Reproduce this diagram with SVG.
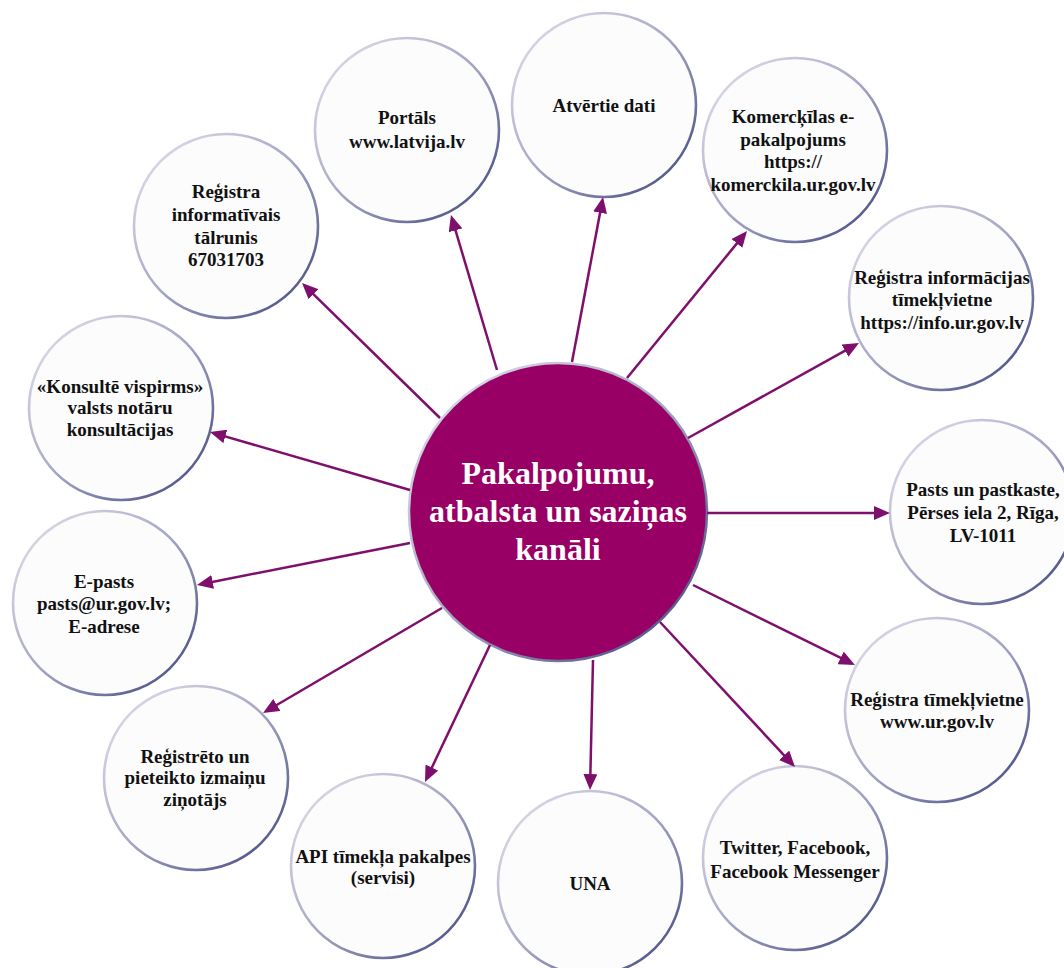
<svg xmlns="http://www.w3.org/2000/svg" width="1064" height="968" viewBox="0 0 1064 968">
<defs>
<linearGradient id="ring" x1="0.15" y1="0.15" x2="0.85" y2="0.85">
<stop offset="0" stop-color="#d2d2e2"/>
<stop offset="0.5" stop-color="#a4a6c4"/>
<stop offset="1" stop-color="#5a5e90"/>
</linearGradient>
<marker id="ah" viewBox="0 0 16 14" refX="12" refY="7" markerWidth="16" markerHeight="14" markerUnits="userSpaceOnUse" orient="auto">
<path d="M0,0 L16,7 L0,14 z" fill="#7e0f6c"/>
</marker>
<style>
.n{fill:#fcfcfd;stroke:url(#ring);stroke-width:2.6}
.t{font-family:"Liberation Serif","Times New Roman",serif;font-weight:bold;font-size:19px;fill:#111;text-anchor:middle}
.c{font-family:"Liberation Serif","Times New Roman",serif;font-weight:bold;font-size:32px;fill:#fff;text-anchor:middle}
.e{stroke:#7e0f6c;stroke-width:2.5;fill:none;marker-end:url(#ah)}
</style>
</defs>
<rect width="1064" height="968" fill="#fff"/>
<g id="center">
<circle cx="558" cy="512" r="149" fill="#990066" stroke="url(#ring)" stroke-width="2.5"/>
<text class="c" x="558" y="484">Pakalpojumu,</text>
<text class="c" x="558" y="522">atbalsta un saziņas</text>
<text class="c" x="558" y="560">kanāli</text>
</g>
<g id="n-portals">
<circle class="n" cx="407" cy="130" r="92"/>
<text class="t" x="407" y="124">Portāls</text>
<text class="t" x="407" y="148">www.latvija.lv</text>
</g>
<g id="n-atvertie">
<circle class="n" cx="604" cy="105" r="92"/>
<text class="t" x="604" y="112">Atvērtie dati</text>
</g>
<g id="n-komerckilas">
<circle class="n" cx="795" cy="150" r="92"/>
<text class="t" x="793" y="123">Komercķīlas e-</text>
<text class="t" x="793" y="146">pakalpojums</text>
<text class="t" x="793" y="168">https://</text>
<text class="t" x="793" y="191">komerckila.ur.gov.lv</text>
</g>
<g id="n-info">
<circle class="n" cx="941" cy="298" r="92"/>
<text class="t" x="942" y="284">Reģistra informācijas</text>
<text class="t" x="942" y="306">tīmekļvietne</text>
<text class="t" x="942" y="329">https://info.ur.gov.lv</text>
</g>
<g id="n-pasts">
<circle class="n" cx="982" cy="512" r="92"/>
<text class="t" x="983" y="496">Pasts un pastkaste,</text>
<text class="t" x="983" y="519">Pērses iela 2, Rīga,</text>
<text class="t" x="983" y="542">LV-1011</text>
</g>
<g id="n-timeklvietne">
<circle class="n" cx="937" cy="710" r="92"/>
<text class="t" x="937" y="706">Reģistra tīmekļvietne</text>
<text class="t" x="937" y="728">www.ur.gov.lv</text>
</g>
<g id="n-twitter">
<circle class="n" cx="795" cy="858" r="92"/>
<text class="t" x="795" y="854">Twitter, Facebook,</text>
<text class="t" x="795" y="878">Facebook Messenger</text>
</g>
<g id="n-una">
<circle class="n" cx="590" cy="883" r="92"/>
<text class="t" x="590" y="890">UNA</text>
</g>
<g id="n-api">
<circle class="n" cx="383" cy="866" r="92"/>
<text class="t" x="383" y="863">API tīmekļa pakalpes</text>
<text class="t" x="383" y="884">(servisi)</text>
</g>
<g id="n-zinotajs">
<circle class="n" cx="196" cy="778" r="92"/>
<text class="t" x="195" y="763">Reģistrēto un</text>
<text class="t" x="195" y="784">pieteikto izmaiņu</text>
<text class="t" x="195" y="806">ziņotājs</text>
</g>
<g id="n-epasts">
<circle class="n" cx="105" cy="603" r="92"/>
<text class="t" x="104" y="588">E-pasts</text>
<text class="t" x="104" y="610">pasts@ur.gov.lv;</text>
<text class="t" x="104" y="633">E-adrese</text>
</g>
<g id="n-konsulte">
<circle class="n" cx="121" cy="408" r="92"/>
<text class="t" x="120" y="393">«Konsultē vispirms»</text>
<text class="t" x="120" y="414">valsts notāru</text>
<text class="t" x="120" y="436">konsultācijas</text>
</g>
<g id="n-talrunis">
<circle class="n" cx="226" cy="226" r="92"/>
<text class="t" x="226" y="198">Reģistra</text>
<text class="t" x="226" y="221">informatīvais</text>
<text class="t" x="226" y="244">tālrunis</text>
<text class="t" x="226" y="266">67031703</text>
</g>
<g id="connectors">
<line class="e" x1="497" y1="370" x2="452.1" y2="218.8"/>
<line class="e" x1="572" y1="362" x2="602.3" y2="200.9"/>
<line class="e" x1="627" y1="378" x2="744.5" y2="234.1"/>
<line class="e" x1="688" y1="438" x2="855.5" y2="344.9"/>
<line class="e" x1="707" y1="513" x2="886" y2="513"/>
<line class="e" x1="693" y1="585" x2="851.4" y2="663.2"/>
<line class="e" x1="660" y1="622" x2="792.3" y2="764.1"/>
<line class="e" x1="593" y1="660" x2="590.1" y2="786"/>
<line class="e" x1="490" y1="645" x2="426.7" y2="778.4"/>
<line class="e" x1="442" y1="608" x2="266.5" y2="711"/>
<line class="e" x1="410" y1="543" x2="200.9" y2="584.2"/>
<line class="e" x1="410" y1="490" x2="213.8" y2="433.1"/>
<line class="e" x1="440" y1="418" x2="304.9" y2="285.8"/>
</g>
</svg>
